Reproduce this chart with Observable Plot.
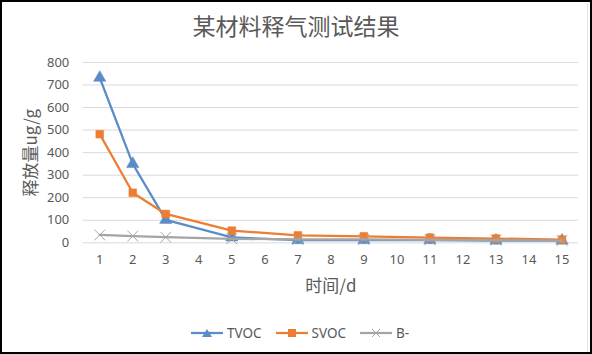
<!DOCTYPE html>
<html><head><meta charset="utf-8">
<script src="https://cdn.jsdelivr.net/npm/d3@7"></script>
<script src="https://cdn.jsdelivr.net/npm/@observablehq/plot@0.6"></script>
<style>
body{margin:0;background:#fff;}
#wrap{position:relative;width:592px;height:354px;box-sizing:border-box;border:2px solid #000;background:#fff;font-family:"Noto Sans","Noto Sans CJK SC",sans-serif;color:#595959;overflow:hidden;}
#inner{position:absolute;left:0;top:0;right:2px;bottom:0;border-right:1px solid #e4e4e4;}
#title{position:absolute;top:8px;left:-2px;width:592px;text-align:center;font-size:23px;line-height:30px;font-family:"Noto Sans CJK SC","Noto Sans",sans-serif;}
#chart{position:absolute;left:-2px;top:43px;}
#legend{position:absolute;top:321px;left:189px;height:20px;display:flex;align-items:center;font-size:13.5px;line-height:20px;}
.item{display:flex;align-items:center;margin-right:14px;}
.item svg{margin-right:4px;}
</style>
</head><body>
<div id="wrap">
<div id="inner"></div>
<div id="title">某材料释气测试结果</div>
<div id="chart"></div>
<div id="legend"></div>
</div>
<script>
const days = [1, 2, 3, 5, 7, 9, 11, 13, 15];
const tvoc = [732, 350, 102, 24, 12, 12, 12, 10, 10];
const svoc = [482, 222, 128, 54, 33, 29, 23, 19, 14];
const bMinus = [35, 30, 25, 18, 15, 15, 13, 12, 10];
const seriesNames = ["TVOC", "SVOC", "B-"];
const xTicks = [1,2,3,4,5,6,7,8,9,10,11,12,13,14,15];
const yTicks = [0,100,200,300,400,500,600,700,800];

const colors = {"TVOC":"#5a8dc8","SVOC":"#ec7d33","B-":"#a5a5a5"};
const toRows = (vals) => days.map((d,i)=>({day:d, v:vals[i]}));
const tv = toRows(tvoc), sv = toRows(svoc), bm = toRows(bMinus);

const font = '"Noto Sans","Noto Sans CJK SC",sans-serif';
const cjk = '"Noto Sans CJK SC","Noto Sans",sans-serif';
const chart = Plot.plot({
  width: 592, height: 260,
  marginLeft: 83, marginRight: 12, marginTop: 17, marginBottom: 62,
  x: {type: "linear", domain: [0.5, 15.5]},
  y: {domain: [0, 800]},
  style: {fontFamily: font, fontSize: "13px", color: "#595959", background: "transparent", overflow: "visible"},
  marks: [
    Plot.gridY(yTicks, {stroke: "#d9d9d9", strokeOpacity: 1, strokeWidth: 1}),
    Plot.axisY(yTicks, {tickSize: 0, tickPadding: 14, label: null, fill: "#595959"}),
    Plot.axisX(xTicks, {tickSize: 0, tickPadding: 12, label: null, fill: "#595959", tickFormat: d => String(d)}),
    Plot.text(["释放量ug/g"], {frameAnchor: "left", rotate: -90, dx: -52, lineAnchor: "middle", textAnchor: "middle", fontSize: 17, fill: "#595959", fontFamily: cjk}),
    Plot.text(["时间/d"], {frameAnchor: "bottom", dy: 44, lineAnchor: "middle", textAnchor: "middle", fontSize: 17, fill: "#595959", fontFamily: cjk}),
    Plot.line(tv, {x: "day", y: "v", stroke: colors["TVOC"], strokeWidth: 2.25}),
    Plot.dot(tv, {x: "day", y: "v", symbol: "triangle", r: 4.6, fill: colors["TVOC"], stroke: colors["TVOC"], strokeWidth: 0.5}),
    Plot.line(sv, {x: "day", y: "v", stroke: colors["SVOC"], strokeWidth: 2.25}),
    Plot.dot(sv, {x: "day", y: "v", symbol: "square", r: 4.4, fill: colors["SVOC"], stroke: colors["SVOC"], strokeWidth: 0.5}),
    Plot.line(bm, {x: "day", y: "v", stroke: colors["B-"], strokeWidth: 2.25}),
    Plot.dot(bm, {x: "day", y: "v", symbol: "times", r: 5, fill: "none", stroke: colors["B-"], strokeWidth: 1})
  ]
});
document.getElementById("chart").appendChild(chart);

const markers = {
  "TVOC": '<path d="M16,2 L21,10 L11,10 Z" fill="#5a8dc8"/>',
  "SVOC": '<rect x="12" y="2" width="8" height="8" fill="#ec7d33"/>',
  "B-": '<path d="M12,2 L20,10 M20,2 L12,10" stroke="#a5a5a5" stroke-width="1" fill="none"/>'
};
const legend = document.getElementById("legend");
seriesNames.forEach(n => {
  const it = document.createElement("div");
  it.className = "item";
  it.innerHTML = `<svg width="32" height="12"><line x1="0" x2="32" y1="6" y2="6" stroke="${colors[n]}" stroke-width="2.25"/>${markers[n]}</svg><span>${n}</span>`;
  legend.appendChild(it);
});
</script>
</body></html>
